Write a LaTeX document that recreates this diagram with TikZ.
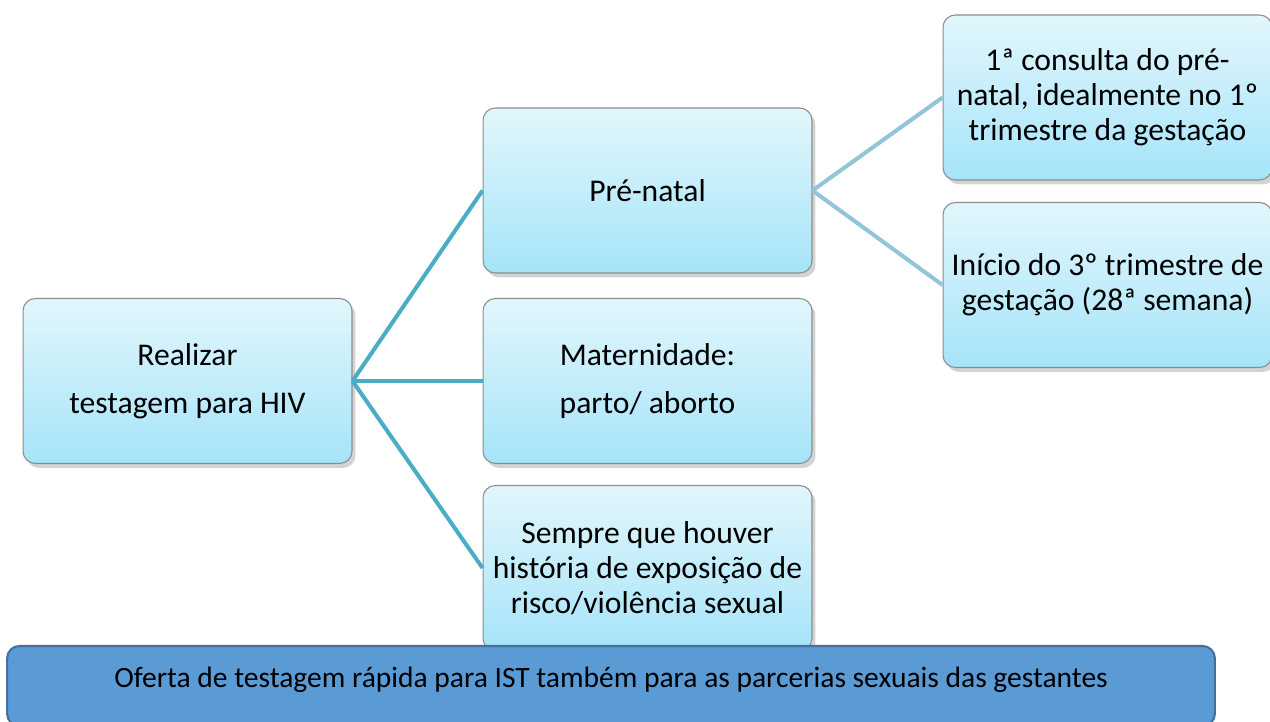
\documentclass[tikz,border=0pt]{standalone}
\usepackage{fontspec}
\setmainfont{Carlito}
\usetikzlibrary{shadows,positioning}
\definecolor{boxtop}{RGB}{226,246,252}
\definecolor{boxbottom}{RGB}{166,228,249}
\definecolor{boxline}{RGB}{140,140,140}
\definecolor{tealline}{RGB}{75,172,198}
\definecolor{paleline}{RGB}{146,197,216}
\definecolor{notefill}{RGB}{91,155,213}
\definecolor{noteline}{RGB}{65,113,156}
\begin{document}
\begin{tikzpicture}[x=0.02cm,y=-0.02cm]
        \tikzstyle{card}=[draw=boxline,line width=0.6pt,rounded corners=7pt,
            top color=boxtop,bottom color=boxbottom,align=center,
            minimum width=6.58cm,minimum height=3.3cm,inner sep=2pt,
            font=\fontsize{18}{20}\selectfont,
            drop shadow={shadow xshift=2pt,shadow yshift=-2.5pt,opacity=0.35}]
        \tikzstyle{branch}=[tealline,line width=2.3pt]
        \tikzstyle{twig}=[paleline,line width=2.3pt]
        \useasboundingbox (0,0) rectangle (1270,722);
        % left column
        \node[card] (real) at (187.5,381) {Realizar\\[7.5pt]testagem para HIV};
        % middle column
        \node[card] (pre) at (647.5,190.5) {Pré-natal};
        \node[card] (mat) at (647.5,381) {Maternidade:\\[7.5pt]parto/ aborto};
        \node[card] (sem) at (647.5,568) {Sempre que houver\\história de exposição de\\risco/violência sexual};
        % right column
        \node[card] (cons) at (1107.5,97.5) {1ª consulta do pré-\\natal, idealmente no 1º\\trimestre da gestação};
        \node[card] (ini) at (1107.5,285) {Início do 3º trimestre de\\gestação (28ª semana)};
        % connectors
        \draw[branch] (real.east) -- (pre.west);
        \draw[branch] (real.east) -- (mat.west);
        \draw[branch] (real.east) -- (sem.west);
        \draw[twig] (pre.east) -- (cons.west);
        \draw[twig] (pre.east) -- (ini.west);
        % note at the bottom
        \node[draw=noteline,line width=1.2pt,fill=notefill,rounded corners=7pt,
            minimum width=24.16cm,minimum height=1.6cm,text depth=10pt,
            font=\fontsize{16.8}{20}\selectfont] (note) at (611,686)
            {Oferta de testagem rápida para IST também para as parcerias sexuais das gestantes};
\end{tikzpicture}
\end{document}
